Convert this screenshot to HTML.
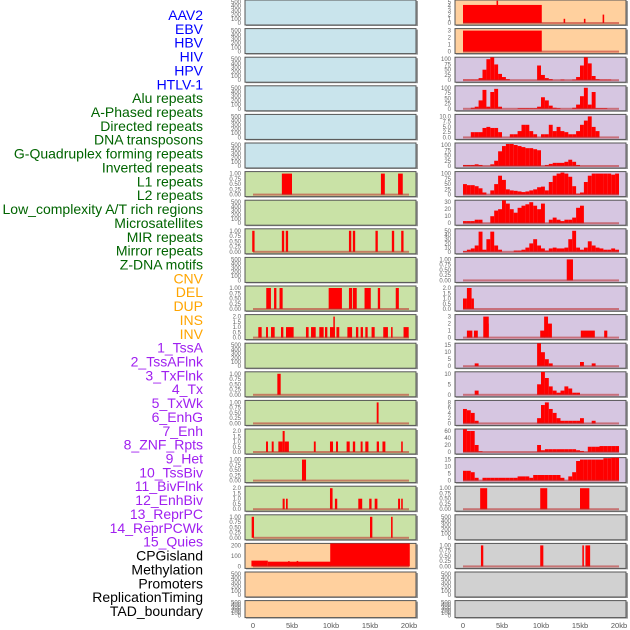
<!DOCTYPE html>
<html><head><meta charset="utf-8"><style>
html,body{margin:0;padding:0;background:#fff;width:630px;height:630px;overflow:hidden}
svg{display:block;font-family:"Liberation Sans",sans-serif}
</style></head><body>
<svg id="chart" width="630" height="630" xmlns="http://www.w3.org/2000/svg"></svg>
<script>
// ---- labels ----
const labelsVirus = ["AAV2","EBV","HBV","HIV","HPV","HTLV-1"];
const labelsRepeat = ["Alu repeats","A-Phased repeats","Directed repeats","DNA transposons","G-Quadruplex forming repeats","Inverted repeats","L1 repeats","L2 repeats","Low_complexity A/T rich regions","Microsatellites","MIR repeats","Mirror repeats","Z-DNA motifs"];
const labelsSV = ["CNV","DEL","DUP","INS","INV"];
const labelsHMM = ["1_TssA","2_TssAFlnk","3_TxFlnk","4_Tx","5_TxWk","6_EnhG","7_Enh","8_ZNF_Rpts","9_Het","10_TssBiv","11_BivFlnk","12_EnhBiv","13_ReprPC","14_ReprPCWk","15_Quies"];
const labelsOther = ["CPGisland","Methylation","Promoters","ReplicationTiming","TAD_boundary"];
const xTickLabels = ["0","5kb","10kb","15kb","20kb"];
const xTickValues = [0,5,10,15,20];

// ---- tick sets ----
const ticks500 = [0,100,200,300,400,500];
const ticks1 = [0,0.25,0.5,0.75,1];
const ticks2 = [0,0.5,1,1.5,2];
const ticks5 = [0,1,2,3,4,5];
const ticks3 = [0,1,2,3];
const ticks100 = [0,25,50,75,100];
const ticks10 = [0,2.5,5,7.5,10];
const ticks30 = [0,10,20,30];
const ticks50 = [0,10,20,30,40,50];
const ticks15 = [0,5,10,15];
const ticks10b = [0,5,10];
const ticks8 = [0,2,4,6,8];
const ticks60 = [0,20,40,60];
const ticks200 = [0,100,200];

// ---- left column segment data [startKb, endKb, value] ----
const l7Segs = [[3.7,5.0,1],[16.4,16.9,1],[18.6,19.2,1]];
const l9Segs = [[-0.1,0.2,1],[3.7,4.0,1],[4.2,4.5,1],[12.3,12.6,1],[12.8,13.1,1],[15.7,16.0,1],[17.8,18.1,1],[19.0,19.3,1]];
const l11Segs = [[1.7,2.3,1],[2.7,3.0,1],[3.4,3.8,1],[9.7,11.4,1],[12.3,12.7,1],[12.8,13.3,1],[14.3,15.1,1],[16.0,16.3,1],[18.3,18.7,1]];
const l12Segs = [[0.68,1.11,1],[1.67,1.92,1],[2.31,2.78,1],[3.59,3.89,1],[4.23,5.21,1],[6.79,7.13,1],[7.44,8.04,1],[8.5,9.06,1],[9.23,9.53,1],[9.87,10.5,1],[10.3,10.45,2],[10.7,11.06,1],[12.1,12.7,1],[13.2,13.5,1],[13.8,14.1,1],[14.4,14.7,1],[15.2,15.6,1],[16.7,17.3,1],[17.7,17.9,1],[19.3,19.96,1]];
const l14Segs = [[3.12,3.55,1]];
const l15Segs = [[15.86,16.1,1]];
const l16Segs = [[1.67,1.92,1],[2.4,2.65,1],[3.25,3.8,1],[3.8,4.06,2],[4.06,4.6,1],[7.8,8.04,1],[9.87,10.26,1],[10.64,10.9,1],[12.0,12.4,1],[12.8,13.1,1],[13.8,14.05,1],[14.4,14.8,1],[15.86,16.15,1],[16.6,16.97,1],[19.0,19.2,1]];
const l17Segs = [[6.28,6.8,1]];
const l18Segs = [[3.8,4.06,1],[4.23,4.45,1],[9.87,10.2,2],[10.5,10.8,1],[13.5,14.0,1],[14.9,15.2,1],[15.6,15.95,1],[18.6,18.85,1],[19.0,19.2,1]];
const l19Segs = [[-0.17,0.13,1],[15.0,15.3,1],[17.7,17.9,1]];
const l20Segs = [[-0.2,1.9,55],[1.9,10.0,45],[4.5,4.7,50],[5.6,5.8,52],[9.9,20.1,280]];

// ---- right column data (bins are 0.5kb each, starting at 0kb) ----
const r1Segs = [[0,10.1,4.3],[4.3,4.5,5.3],[12.9,13.1,1],[15.5,15.7,1],[17.9,18.1,2]];
const r2Segs = [[0,10.1,3]];
const r3Bins = [3,3,3,3,10,50,100,110,75,30,15,5,0,0,0,0,0,0,0,70,25,10,5,0,0,3,0,0,3,15,70,110,80,20,5,3,3,3,0,0];
const r4Bins = [0,0,5,10,40,90,10,80,95,10,0,0,0,0,3,3,3,3,3,10,55,40,15,5,3,0,0,0,5,20,60,100,20,80,3,3,3,0,0,0];
const r5Bins = [0,0,2.5,2.5,2.5,4.5,5,4.5,4.5,2.5,0,0,1.5,1.5,3,6,6,3,1.5,0,1.5,1.5,6,3,5,3,2.5,1.5,1.5,3,6,8,10,5,3,0,0,0,0,0];
const r6Bins = [5,5,5,8,5,0,0,8,25,70,95,105,105,100,95,90,85,85,80,75,0,5,10,15,15,15,20,30,20,5,0,0,0,0,0,0,0,0,0,0];
const r7Bins = [50,45,45,40,30,10,0,20,50,90,70,25,20,18,15,12,15,20,25,35,38,20,60,90,100,105,100,85,40,5,10,60,90,100,100,100,100,100,95,100];
const r8Bins = [3,3,3,5,5,0,0,10,18,20,40,28,20,15,22,25,27,30,25,20,28,0,5,8,5,3,5,5,8,22,25,0,0,0,0,0,0,0,0,0];
const r9Bins = [2,5,8,15,48,5,30,48,15,5,0,0,0,3,3,5,10,20,30,15,8,3,8,10,8,8,10,30,50,10,5,10,25,15,10,8,5,5,8,5];
const r10Segs = [[13.3,14.1,1]];
const r11Segs = [[0,0.5,1],[0.5,1.1,2],[1.1,1.4,1]];
const r12Segs = [[0.5,1.2,1],[1.4,1.9,1],[2.6,3.3,3],[3.0,3.3,2],[9.9,10.5,1],[10.4,10.9,3],[10.9,11.4,2],[15.1,16.9,1],[18.1,18.5,1]];
const r13Bins = [0,0,0,2,0,0,0,0,0,0,0,0,0,0,0,0,0,0,0,17,10,5,2,0,0,0,0,0,0,0,3,0,0,2,0,0,0,0,0,0];
const r14Bins = [0,0,0,2,0,0,0,0,0,0,0,0,0,0,0,0,0,0,0,5,13,8,4,2,1,2,4,3,1,1,0,0,0,0,0,0,0,0,0,0];
const r15Bins = [5.5,5,4,1,0,0,0,0,0,0,0,0,0,0,0,0,0,0,0,2,7,8,5.5,4,2,1,1,1,1,1,2,0,0,1,0,0,0,0,0,0];
const r16Bins = [65,60,60,20,2,0,0,0,0,0,0,0,0,0,0,0,0,0,0,20,5,8,8,8,8,8,8,8,8,5,3,0,15,15,15,17,17,17,17,17];
const r17Bins = [7,7,6,2,0,2,2,2,2,2,2,2,2,2,3,3,3,2,4,4,4,4,4,4,4,2,0,3,6,14,15,15,15,15,15,15,16,16,17,17];
const r18Segs = [[2.2,3.1,1],[9.9,10.8,1],[15.0,16.2,1]];
const r20Segs = [[2.3,2.6,1],[9.9,10.3,1],[15.3,15.5,1],[15.7,16.3,1]];

const COL = {blue:"#c9e4ec", green:"#c9e2a6", orange:"#ffd09e", purple:"#d6c6e1", gray:"#d1d1d1"};

// panels: [column, row, bg, ticks, kind, data]
const panels = [
 ["L",0,"blue",ticks500,null,null],["L",1,"blue",ticks500,null,null],["L",2,"blue",ticks500,null,null],
 ["L",3,"blue",ticks500,null,null],["L",4,"blue",ticks500,null,null],["L",5,"blue",ticks500,null,null],
 ["L",6,"green",ticks1,"segs",l7Segs],["L",7,"green",ticks500,null,null],["L",8,"green",ticks1,"segs",l9Segs],
 ["L",9,"green",ticks500,null,null],["L",10,"green",ticks1,"segs",l11Segs],["L",11,"green",ticks2,"segs",l12Segs],
 ["L",12,"green",ticks500,null,null],["L",13,"green",ticks1,"segs",l14Segs],["L",14,"green",ticks1,"segs",l15Segs],
 ["L",15,"green",ticks2,"segs",l16Segs],["L",16,"green",ticks1,"segs",l17Segs],["L",17,"green",ticks2,"segs",l18Segs],
 ["L",18,"green",ticks1,"segs",l19Segs],["L",19,"orange",ticks200,"segs",l20Segs],["L",20,"orange",ticks500,null,null],
 ["L",21,"orange",ticks500,null,null],
 ["R",0,"orange",ticks5,"segs",r1Segs],["R",1,"orange",ticks3,"segs",r2Segs],["R",2,"purple",ticks100,"bins",r3Bins],
 ["R",3,"purple",ticks100,"bins",r4Bins],["R",4,"purple",ticks10,"bins",r5Bins],["R",5,"purple",ticks100,"bins",r6Bins],
 ["R",6,"purple",ticks100,"bins",r7Bins],["R",7,"purple",ticks30,"bins",r8Bins],["R",8,"purple",ticks50,"bins",r9Bins],
 ["R",9,"purple",ticks1,"segs",r10Segs],["R",10,"purple",ticks2,"segs",r11Segs],["R",11,"purple",ticks3,"segs",r12Segs],
 ["R",12,"purple",ticks15,"bins",r13Bins],["R",13,"purple",ticks10b,"bins",r14Bins],["R",14,"purple",ticks8,"bins",r15Bins],
 ["R",15,"purple",ticks60,"bins",r16Bins],["R",16,"purple",ticks15,"bins",r17Bins],["R",17,"gray",ticks1,"segs",r18Segs],
 ["R",18,"gray",ticks500,null,null],["R",19,"gray",ticks1,"segs",r20Segs],["R",20,"gray",ticks500,null,null],
 ["R",21,"gray",ticks500,null,null]
];

const NS="http://www.w3.org/2000/svg";
const svg=document.getElementById("chart");
function mk(tag,attrs,parent){const e=document.createElementNS(NS,tag);for(const k in attrs)e.setAttribute(k,attrs[k]);(parent||svg).appendChild(e);return e;}

// labels
const groups=[[labelsVirus,"#0000ff"],[labelsRepeat,"#006400"],[labelsSV,"#ffa500"],[labelsHMM,"#a020f0"],[labelsOther,"#000000"]];
let li=0;
groups.forEach(([arr,c])=>arr.forEach(t=>{
  const e=mk("text",{x:203,y:15+li*13.86+5,"text-anchor":"end","font-size":"14",fill:c});
  e.textContent=t;
  
  
  li++;
}));

function fmt(t,ticks){const mx=ticks[ticks.length-1];
  if(mx===1)return t.toFixed(2);
  if(mx===2||mx===10&&ticks[1]===2.5)return t.toFixed(1);
  return String(t);}

panels.forEach(p=>{
  const [col,row,bg,ticks,kind,data]=p;
  const px=col==="L"?245:455, x0=col==="L"?253:463, kbW=7.8;
  const top=row*28.6, h=row===21?17:25, bottom=top+h;
  const xs=kb=>x0+kb*kbW;
  const yMaxT=ticks[ticks.length-1];
  const yb=bottom-2, yt=top+2;
  const ys=v=>Math.max(top,yb-(v/yMaxT)*(yb-yt));
  const g=mk("g",{});
  
  
  mk("rect",{x:px+1,y:top+1,width:172,height:h,fill:"#999"},g);
  const bgr=mk("rect",{x:px,y:top,width:171,height:h,fill:COL[bg],stroke:"#555","stroke-width":1},g);
  
  
  // ticks
  ticks.forEach(t=>{
    const tx=mk("text",{x:px-4,y:ys(t)+2,"text-anchor":"end","font-size":"6",fill:"#666"},g);
    tx.textContent=fmt(t,ticks);
    
    
  });
  if(kind){
    const cp="c"+col+row;
    const clip=mk("clipPath",{id:cp},g);
    mk("rect",{x:px,y:top,width:171,height:h},clip);
    const dg=mk("g",{"clip-path":"url(#"+cp+")"},g);
    const bars = kind==="bins" ? data.map((v,i)=>[i*0.5,(i+1)*0.5,v]) : data;
    bars.forEach(([a,b,v])=>{
      if(v<=0)return;
      const r=mk("rect",{x:xs(a),y:ys(v),width:Math.max(1.5,xs(b)-xs(a)),height:yb-ys(v),fill:"#ff0000"},dg);
      
      
    });
    const bl=mk("rect",{x:xs(0),y:yb-1,width:xs(20)-xs(0),height:2,fill:"rgba(190,40,40,0.55)"},dg);
    
    
  }
});

// x axes
["L","R"].forEach(col=>{
  const x0=col==="L"?253:463;
  xTickValues.forEach((v,i)=>{
    const t=mk("text",{x:x0+v*7.8,y:628,"text-anchor":"middle","font-size":"7.5",fill:"#555"});
    t.textContent=xTickLabels[i];
    
    
  });
});
</script>
</body></html>
